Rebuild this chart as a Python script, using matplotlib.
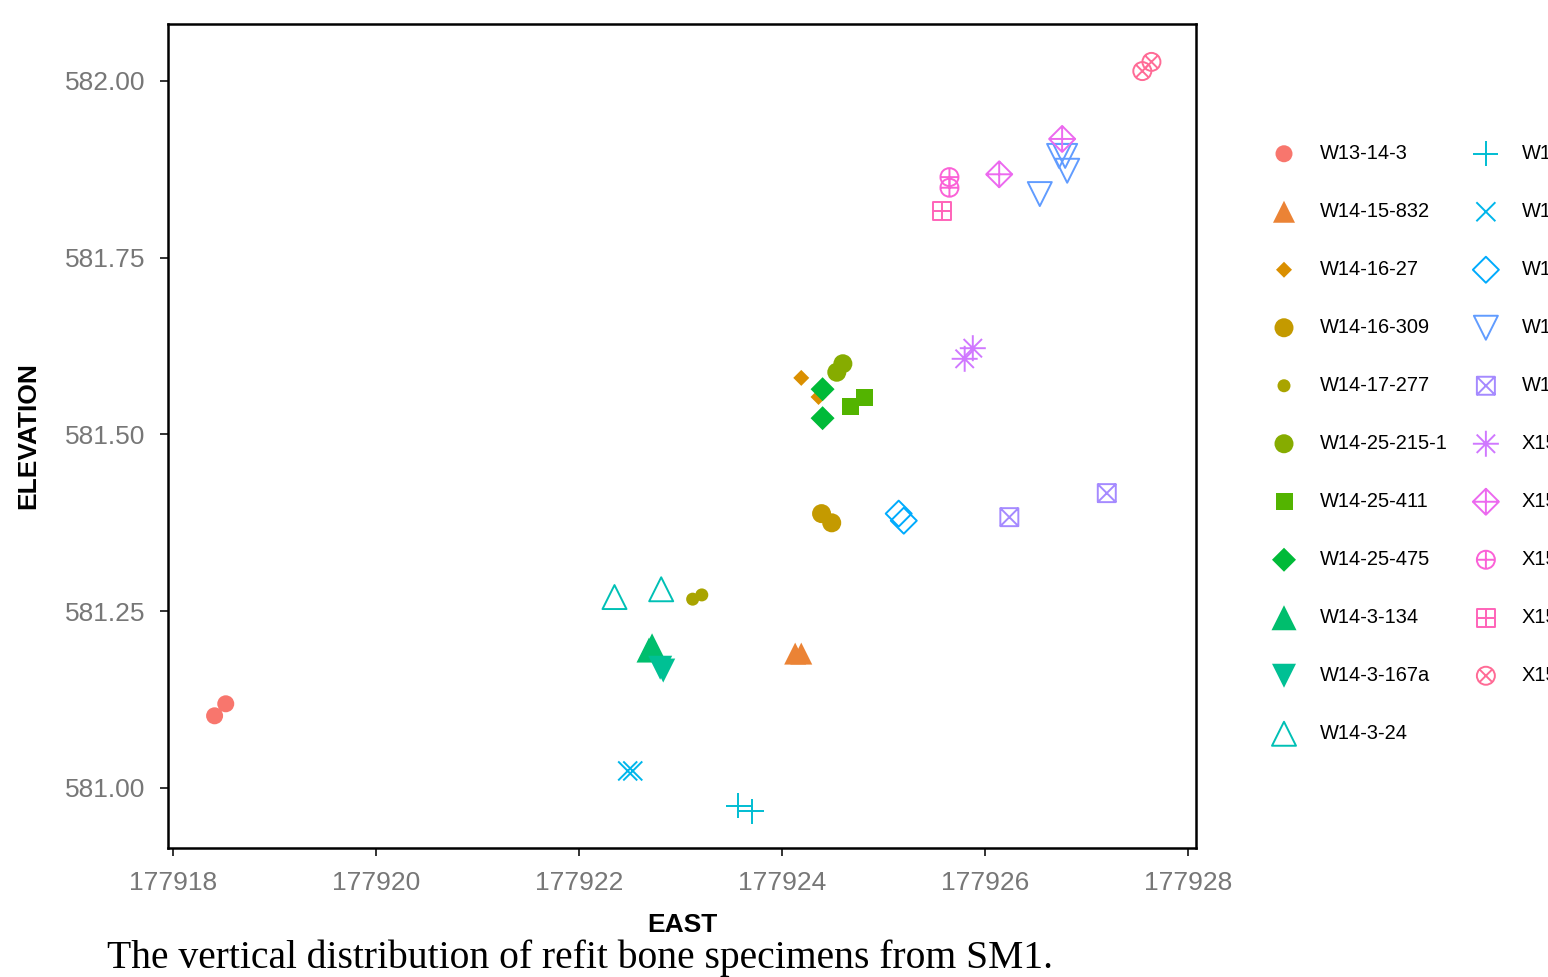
import numpy as np
import matplotlib
matplotlib.use('Agg')
import matplotlib.pyplot as plt
from matplotlib.path import Path

# specimen groups, in legend order
specimens = ['W13-14-3', 'W14-15-832', 'W14-16-27', 'W14-16-309', 'W14-17-277',
             'W14-25-215-1', 'W14-25-411', 'W14-25-475', 'W14-3-134', 'W14-3-167a',
             'W14-3-24', 'W14-3-278', 'W14-3-31', 'W14-3-33', 'W14-4-42', 'W14-5-108',
             'X15-1-62', 'X15-2-40', 'X15-2-91', 'X15-3-16', 'X15-3-7']

east = [
    [177918.41, 177918.52],
    [177924.13, 177924.19],
    [177924.19, 177924.36],
    [177924.39, 177924.49],
    [177923.12, 177923.21],
    [177924.54, 177924.60],
    [177924.68, 177924.81],
    [177924.40, 177924.40],
    [177922.69, 177922.72],
    [177922.80, 177922.83],
    [177922.35, 177922.81],
    [177923.57, 177923.70],
    [177922.48, 177922.53],
    [177925.15, 177925.20],
    [177926.54, 177926.73, 177926.79, 177926.81],
    [177926.24, 177927.20],
    [177925.80, 177925.88],
    [177926.14, 177926.76],
    [177925.65, 177925.65],
    [177925.58],
    [177927.55, 177927.64],
]

elevation = [
    [581.102, 581.119],
    [581.190, 581.190],
    [581.580, 581.553],
    [581.388, 581.375],
    [581.267, 581.273],
    [581.588, 581.600],
    [581.539, 581.552],
    [581.564, 581.523],
    [581.195, 581.201],
    [581.170, 581.166],
    [581.270, 581.281],
    [580.975, 580.967],
    [581.024, 581.024],
    [581.388, 581.378],
    [581.840, 581.894, 581.894, 581.873],
    [581.383, 581.417],
    [581.607, 581.622],
    [581.868, 581.918],
    [581.864, 581.849],
    [581.816],
    [582.014, 582.027],
]

x_ticks = [177918, 177920, 177922, 177924, 177926, 177928]
y_ticks = [581.00, 581.25, 581.50, 581.75, 582.00]

caption = 'The vertical distribution of refit bone specimens from SM1.'


def hcl_color(h, c=100.0, l=65.0):
    # ggplot2 hue palette colour (polar LUV -> sRGB)
    h = np.deg2rad(h)
    u, v = c * np.cos(h), c * np.sin(h)
    Xn, Yn, Zn = 95.047, 100.0, 108.883
    d = Xn + 15 * Yn + 3 * Zn
    un, vn = 4 * Xn / d, 9 * Yn / d
    Y = Yn * ((l + 16) / 116) ** 3
    up, vp = u / (13 * l) + un, v / (13 * l) + vn
    X = 9 * Y * up / (4 * vp)
    Z = 3 * Y / vp - 5 * Y - X / 3
    M = np.array([[3.240479, -1.537150, -0.498535],
                  [-0.969256, 1.875992, 0.041556],
                  [0.055648, -0.204043, 1.057311]])
    rgb = np.clip(M @ (np.array([X, Y, Z]) / 100), 0, 1)
    rgb = np.where(rgb <= 0.0031308, 12.92 * rgb, 1.055 * rgb ** (1 / 2.4) - 0.055)
    return np.clip(rgb, 0, 1)


M_, L_, C_ = Path.MOVETO, Path.LINETO, Path.CLOSEPOLY
square = Path([(-1, -1), (1, -1), (1, 1), (-1, 1), (-1, -1)], [M_, L_, L_, L_, C_])
diamond = Path([(0, -1), (1, 0), (0, 1), (-1, 0), (0, -1)], [M_, L_, L_, L_, C_])
plus = Path([(-1, 0), (1, 0), (0, -1), (0, 1)], [M_, L_, M_, L_])
cross = Path([(-1, -1), (1, 1), (-1, 1), (1, -1)], [M_, L_, M_, L_])
k = 0.7071
small_cross = Path([(-k, -k), (k, k), (-k, k), (k, -k)], [M_, L_, M_, L_])
circle = Path.unit_circle()
tri_up = Path([(0, 1), (1, -1), (-1, -1), (0, 1)], [M_, L_, L_, C_])
tri_down = Path([(0, -1), (1, 1), (-1, 1), (0, -1)], [M_, L_, L_, C_])
asterisk = Path.make_compound_path(plus, small_cross)

# marker, width in px, filled
shapes = [
    (circle, 17, True), (tri_up, 22, True), (diamond, 16, True), (circle, 19, True),
    (circle, 13, True), (circle, 19, True), (square, 17, True), (diamond, 24, True),
    (tri_up, 25, True), (tri_down, 24, True), (tri_up, 24, False),
    (plus, 25, False), (cross, 19, False), (diamond, 26, False), (tri_down, 24, False),
    (Path.make_compound_path(square, cross), 18, False),
    (asterisk, 26, False),
    (Path.make_compound_path(diamond, plus), 26, False),
    (Path.make_compound_path(circle, plus), 18, False),
    (Path.make_compound_path(square, plus), 18, False),
    (Path.make_compound_path(circle, small_cross), 18, False),
]

px = 72 / 100.0
fig = plt.figure(figsize=(15.48, 9.77), dpi=100)
ax = fig.add_axes([168 / 1548, 1 - 848 / 977, (1196 - 168) / 1548, (848 - 24) / 977])

n = len(specimens)
for i, name in enumerate(specimens):
    col = hcl_color(15 + 360.0 * i / n)
    marker, size, filled = shapes[i]
    if filled:
        ax.scatter(east[i], elevation[i], marker=marker, s=(size * px) ** 2,
                   facecolors=[col], edgecolors='none', label=name, zorder=3)
    else:
        ax.scatter(east[i], elevation[i], marker=marker, s=(size * px) ** 2,
                   facecolors='none', edgecolors=[col], linewidths=1.4,
                   label=name, zorder=3)

ax.set_xlim(177917.951, 177928.079)
ax.set_ylim(580.915, 582.0806)
ax.set_xticks(x_ticks)
ax.set_xticklabels([str(t) for t in x_ticks])
ax.set_yticks(y_ticks)
ax.set_yticklabels(['%.2f' % t for t in y_ticks])

for s in ax.spines.values():
    s.set_linewidth(1.8)
    s.set_color('black')
ax.tick_params(length=6, width=1.4, color='#333333', labelcolor='#777777',
               labelsize=19, pad=10.5, labelfontfamily='Liberation Sans')

ax.set_xlabel('EAST', fontsize=19, fontweight='bold', family='Liberation Sans')
ax.set_ylabel('ELEVATION', fontsize=19, fontweight='bold', family='Liberation Sans')
ax.xaxis.set_label_coords(0.5, (848 - 913) / 824)
ax.yaxis.set_label_coords((40 - 168) / 1028, 0.5)

# legend runs past the right edge of the figure, as in the original
fig.legend(loc='upper left', bbox_to_anchor=(1274 / 1548, 1 - 144 / 977),
           ncol=2, frameon=False, scatterpoints=1,
           prop={'family': 'Liberation Sans', 'size': 14.4},
           handlelength=1.0, handletextpad=1.3, columnspacing=1.4,
           labelspacing=1.95, borderpad=0, borderaxespad=0)

fig.text(107 / 1548, 1 - 958 / 977, caption, family='Liberation Serif',
         fontsize=28.5, va='center', ha='left')

fig.savefig('out.png', dpi=100)
